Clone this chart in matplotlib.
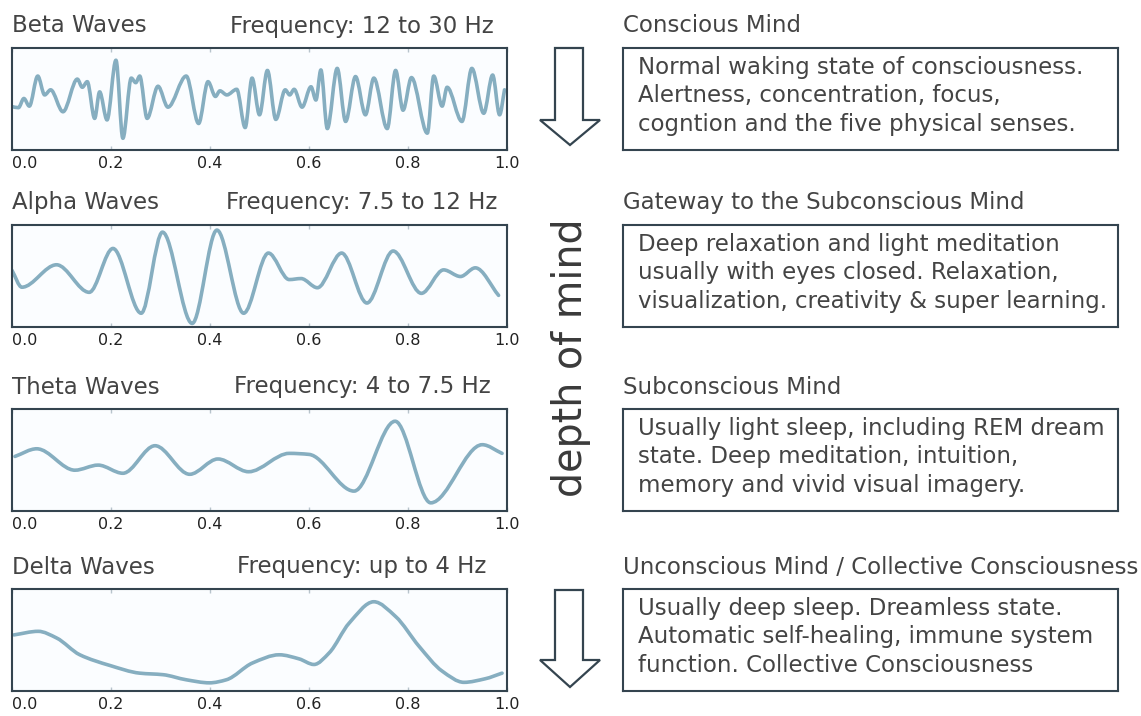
import numpy as np
import matplotlib.pyplot as plt
from matplotlib.path import Path
from matplotlib.patches import PathPatch, Polygon

# wave shapes: x in [0, 1], amplitude in [-1, 1]
beta_x = [0.000, 0.013, 0.024, 0.035, 0.052, 0.066, 0.078, 0.103, 0.132, 0.142,
          0.152, 0.167, 0.177, 0.192, 0.210, 0.224, 0.241, 0.250, 0.258, 0.273,
          0.295, 0.315, 0.352, 0.377, 0.396, 0.411, 0.420, 0.434, 0.454, 0.471,
          0.485, 0.500, 0.516, 0.533, 0.552, 0.561, 0.570, 0.586, 0.604, 0.614,
          0.624, 0.637, 0.657, 0.674, 0.694, 0.714, 0.731, 0.758, 0.775, 0.790,
          0.807, 0.839, 0.852, 0.869, 0.879, 0.909, 0.929, 0.953, 0.971, 0.985,
          0.995]
beta_y = [-0.15, -0.17, 0.01, -0.14, 0.45, 0.08, 0.18, -0.25, 0.39, 0.23,
          0.34, -0.38, 0.14, -0.41, 0.76, -0.77, 0.41, 0.32, 0.45, -0.38,
          0.25, -0.16, 0.45, -0.48, 0.34, 0.05, 0.16, 0.08, 0.19, -0.56,
          0.41, -0.31, 0.56, -0.40, 0.18, 0.08, 0.19, -0.16, 0.24, -0.02,
          0.57, -0.58, 0.60, -0.44, 0.44, -0.31, 0.41, -0.58, 0.56, -0.22,
          0.42, -0.67, 0.45, -0.14, 0.23, -0.44, 0.60, -0.28, 0.47, -0.31,
          0.18]

alpha_x = [0.000, 0.020, 0.090, 0.156, 0.204, 0.261, 0.304, 0.364, 0.414, 0.468,
           0.518, 0.560, 0.584, 0.617, 0.666, 0.717, 0.770, 0.827, 0.872, 0.906,
           0.936, 0.983]
alpha_y = [0.11, -0.22, 0.22, -0.32, 0.54, -0.73, 0.86, -0.93, 0.90, -0.73,
           0.45, -0.07, -0.05, -0.23, 0.45, -0.53, 0.49, -0.34, 0.12, -0.01,
           0.16, -0.38]

theta_x = [0.006, 0.050, 0.127, 0.174, 0.224, 0.289, 0.359, 0.416, 0.478, 0.560,
           0.600, 0.691, 0.774, 0.846, 0.950, 0.990]
theta_y = [0.07, 0.22, -0.20, -0.10, -0.26, 0.28, -0.28, 0.02, -0.23, 0.13,
           0.11, -0.61, 0.76, -0.84, 0.30, 0.13]

delta_x = [0.004, 0.053, 0.090, 0.137, 0.198, 0.258, 0.305, 0.352, 0.399, 0.433,
           0.486, 0.540, 0.580, 0.610, 0.641, 0.681, 0.731, 0.775, 0.822, 0.869,
           0.913, 0.956, 0.990]
delta_y = [0.10, 0.17, 0.04, -0.29, -0.50, -0.65, -0.68, -0.78, -0.84, -0.78,
           -0.45, -0.29, -0.37, -0.48, -0.25, 0.33, 0.75, 0.46, -0.12, -0.61,
           -0.83, -0.76, -0.65]

wave_names = ['Beta Waves', 'Alpha Waves', 'Theta Waves', 'Delta Waves']
freq_labels = ['Frequency: 12 to 30 Hz', 'Frequency: 7.5 to 12 Hz',
               'Frequency: 4 to 7.5 Hz', 'Frequency: up to 4 Hz']
mind_titles = ['Conscious Mind', 'Gateway to the Subconscious Mind',
               'Subconscious Mind', 'Unconscious Mind / Collective Consciousness']
mind_texts = [
    'Normal waking state of consciousness.\nAlertness, concentration, focus,\ncogntion and the five physical senses.',
    'Deep relaxation and light meditation\nusually with eyes closed. Relaxation,\nvisualization, creativity & super learning.',
    'Usually light sleep, including REM dream\nstate. Deep meditation, intuition,\nmemory and vivid visual imagery.',
    'Usually deep sleep. Dreamless state.\nAutomatic self-healing, immune system\nfunction. Collective Consciousness',
]
x_ticks = [0.0, 0.2, 0.4, 0.6, 0.8, 1.0]

waves = [(beta_x, beta_y), (alpha_x, alpha_y), (theta_x, theta_y), (delta_x, delta_y)]

W, H = 1141, 716
TXT = '#444444'
EDGE = '#34444f'
LINE = '#86aec0'
FS = 16.5


def smooth_path(xs, ys):
    # cubic bezier through the points, flat at peaks / troughs
    xs = np.asarray(xs, float)
    ys = np.asarray(ys, float)
    sec = np.diff(ys) / np.diff(xs)
    m = np.zeros(len(xs))
    m[0], m[-1] = sec[0], sec[-1]
    for i in range(1, len(xs) - 1):
        if sec[i - 1] * sec[i] > 0:
            m[i] = 2 * sec[i - 1] * sec[i] / (sec[i - 1] + sec[i])
    verts = [(xs[0], ys[0])]
    codes = [Path.MOVETO]
    for i in range(len(xs) - 1):
        h = xs[i + 1] - xs[i]
        verts += [(xs[i] + h / 3, ys[i] + m[i] * h / 3),
                  (xs[i + 1] - h / 3, ys[i + 1] - m[i + 1] * h / 3),
                  (xs[i + 1], ys[i + 1])]
        codes += [Path.CURVE4] * 3
    return Path(verts, codes)


fig = plt.figure(figsize=(W / 100, H / 100), dpi=100)
fig.patch.set_facecolor('white')

panel_tops = [48, 225, 409, 589]
ph = 102

for i, (xs, ys) in enumerate(waves):
    top = panel_tops[i]
    # wave panel
    ax = fig.add_axes([12 / W, (H - top - ph) / H, 495 / W, ph / H])
    ax.set_facecolor('#fbfdff')
    ax.add_patch(PathPatch(smooth_path(xs, ys), fill=False, ec=LINE, lw=2.6,
                           capstyle='round', joinstyle='round'))
    ax.set_xlim(0, 1)
    ax.set_ylim(-1, 1)
    ax.set_yticks([])
    ax.set_xticks(x_ticks)
    ax.set_xticklabels(['%.1f' % t for t in x_ticks])
    ax.tick_params(axis='x', direction='in', top=True, length=3, width=1,
                   color='#b8c4cc', pad=4.5, labelsize=11.5, labelcolor='#222222')
    ax.get_xticklabels()[0].set_horizontalalignment('left')
    for s in ax.spines.values():
        s.set_color(EDGE)
        s.set_linewidth(1.5)
    ax.text(0.0, 1 + 22 / ph, wave_names[i], transform=ax.transAxes,
            ha='left', va='center', fontsize=FS, color=TXT)
    ax.text(0.707, 1 + 22 / ph, freq_labels[i], transform=ax.transAxes,
            ha='center', va='center', fontsize=FS, color=TXT)

    # description box
    bx = fig.add_axes([623 / W, (H - top - ph) / H, 495 / W, ph / H])
    bx.set_xticks([])
    bx.set_yticks([])
    for s in bx.spines.values():
        s.set_color(EDGE)
        s.set_linewidth(1.5)
    bx.text(0.0, 1 + 22 / ph, mind_titles[i], transform=bx.transAxes,
            ha='left', va='center', fontsize=FS, color=TXT)
    bx.text(0.03, 0.53, mind_texts[i], transform=bx.transAxes,
            ha='left', va='center', fontsize=FS, color=TXT, linespacing=1.3)

# overlay for the arrows and the vertical caption
ov = fig.add_axes([0, 0, 1, 1], zorder=-1)
ov.set_xlim(0, W)
ov.set_ylim(H, 0)
ov.axis('off')
for a_top, a_neck, a_tip in [(48, 120, 145), (590, 660, 687)]:
    ov.add_patch(Polygon([(555, a_top), (583, a_top), (583, a_neck), (600, a_neck),
                          (570, a_tip), (540, a_neck), (555, a_neck)],
                         closed=True, fc='white', ec=EDGE, lw=1.6))
ov.text(571, 358, 'depth of mind', rotation=90, ha='center', va='center',
        fontsize=28.5, color='#3a3a3a')

fig.savefig('out.png', dpi=100)
